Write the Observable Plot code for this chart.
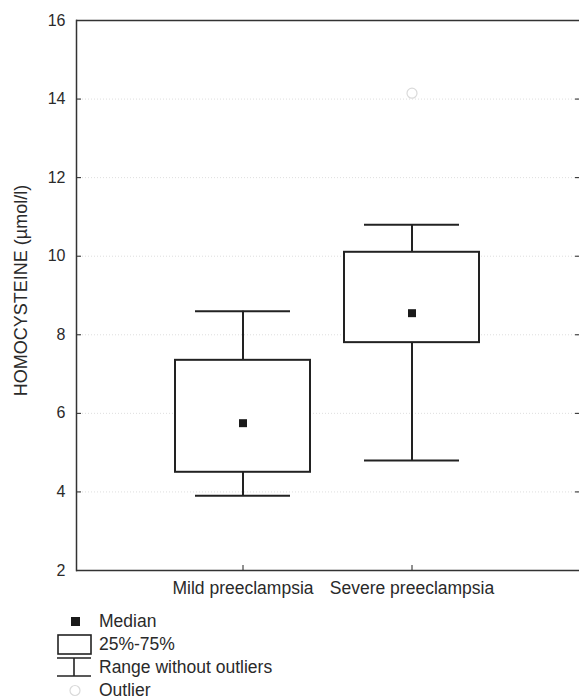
<!DOCTYPE html>
<html><head><meta charset="utf-8">
<script src="https://cdn.jsdelivr.net/npm/d3@7"></script>
<script src="https://cdn.jsdelivr.net/npm/@observablehq/plot@0.6"></script>
<style>
body{margin:0;background:#fff;font-family:"Liberation Sans",Arial,sans-serif;color:#2a2a2a}
#legend{padding-top:5px}
.row{display:flex;align-items:center;height:23px;font-size:17.5px}
.row svg{flex:none}
</style>
</head><body><div id="chart"></div><div id="legend"></div>
<script>
const groups = ["Mild preeclampsia", "Severe preeclampsia"];
const medians = [5.75, 8.55];
const q1 = [4.5, 7.8];
const q3 = [7.35, 10.1];
const lows = [3.9, 4.8];
const highs = [8.6, 10.8];
const outlierGroups = ["Severe preeclampsia"];
const outlierValues = [14.15];
const yTicks = [2, 4, 6, 8, 10, 12, 14, 16];
const yLabel = "HOMOCYSTEINE (µmol/l)";
const legendLabels = ["Median", "25%-75%", "Range without outliers", "Outlier"];

const stats = groups.map((g, i) => ({group: g, median: medians[i], q1: q1[i], q3: q3[i], low: lows[i], high: highs[i]}));
const outliers = outlierGroups.map((g, i) => ({group: g, value: outlierValues[i]}));
const inner = yTicks.slice(1, -1);
const ink = "#222";

const chart = Plot.plot({
  width: 579, height: 605,
  marginLeft: 76, marginRight: 0, marginTop: 20, marginBottom: 35,
  style: {fontFamily: "'Liberation Sans', Arial, sans-serif", color: "#2a2a2a", background: "#fff", overflow: "visible"},
  x: {type: "band", domain: groups, paddingInner: 0.2, paddingOuter: 0.588, label: null},
  y: {domain: [2, 16], label: null},
  marks: [
    Plot.gridY(inner, {stroke: "#dedede", strokeOpacity: 1, strokeDasharray: "1,2"}),
    Plot.ruleX(stats, {x: "group", y1: "low", y2: "q1", stroke: ink, strokeWidth: 2}),
    Plot.ruleX(stats, {x: "group", y1: "q3", y2: "high", stroke: ink, strokeWidth: 2}),
    Plot.tickY(stats, {x: "group", y: "low", insetLeft: 20, insetRight: 20, stroke: ink, strokeWidth: 2}),
    Plot.tickY(stats, {x: "group", y: "high", insetLeft: 20, insetRight: 20, stroke: ink, strokeWidth: 2}),
    Plot.barY(stats, {x: "group", y1: "q1", y2: "q3", fill: "white", stroke: ink, strokeWidth: 2}),
    Plot.dot(stats, {x: "group", y: "median", symbol: "square", r: 4.5, fill: "#1a1a1a", stroke: null}),
    Plot.dot(outliers, {x: "group", y: "value", r: 5, stroke: "#dadada", fill: "none", strokeWidth: 1.2}),
    Plot.ruleY([2, 16], {stroke: "#333", strokeWidth: 1.5}),
    Plot.axisY(yTicks, {anchor: "left", tickSize: 0, tickPadding: 11, fontSize: 16, label: yLabel, labelArrow: "none", labelAnchor: "center", labelOffset: 62}),
    Plot.axisY(inner, {anchor: "left", tickSize: 5, dx: 5, text: null, label: null, stroke: ink}),
    Plot.axisY(inner, {anchor: "right", tickSize: 5, dx: -5, text: null, label: null, stroke: ink}),
    Plot.axisX(groups, {anchor: "bottom", tickSize: 0, tickPadding: 11, fontSize: 17.5, label: null}),
    Plot.axisX(groups, {anchor: "bottom", tickSize: 5, dy: -5, text: null, label: null, stroke: ink}),
    Plot.frame({anchor: "left", stroke: "#333", strokeWidth: 1.5})
  ]
});
document.getElementById("chart").appendChild(chart);
// font sizes and arrow cleanup
chart.querySelectorAll("g[aria-label='y-axis tick label']").forEach(g => g.style.fontSize = "16px");
chart.querySelectorAll("g[aria-label='x-axis tick label']").forEach(g => g.style.fontSize = "17.5px");
chart.querySelectorAll("g[aria-label='y-axis label']").forEach(g => {
  g.style.fontSize = "18px";
  g.querySelectorAll("text").forEach(t => { t.textContent = yLabel; t.setAttribute("dx", "5"); });
});

const icons = [
  `<rect x="71" y="7" width="9" height="9" fill="#1a1a1a"/>`,
  `<rect x="58" y="2" width="33" height="19" fill="none" stroke="${ink}" stroke-width="1.6"/>`,
  `<line x1="57" x2="91" y1="2" y2="2" stroke="${ink}" stroke-width="1.6"/><line x1="57" x2="91" y1="20" y2="20" stroke="${ink}" stroke-width="1.6"/><line x1="74" x2="74" y1="2" y2="20" stroke="${ink}" stroke-width="1.6"/>`,
  `<circle cx="75" cy="11.5" r="5" fill="none" stroke="#dadada" stroke-width="1.2"/>`
];
const legend = document.getElementById("legend");
legendLabels.forEach((lab, i) => {
  const row = document.createElement("div");
  row.className = "row";
  row.innerHTML = `<svg width="99" height="23">${icons[i]}</svg><span>${lab}</span>`;
  legend.appendChild(row);
});
</script>
</body></html>
